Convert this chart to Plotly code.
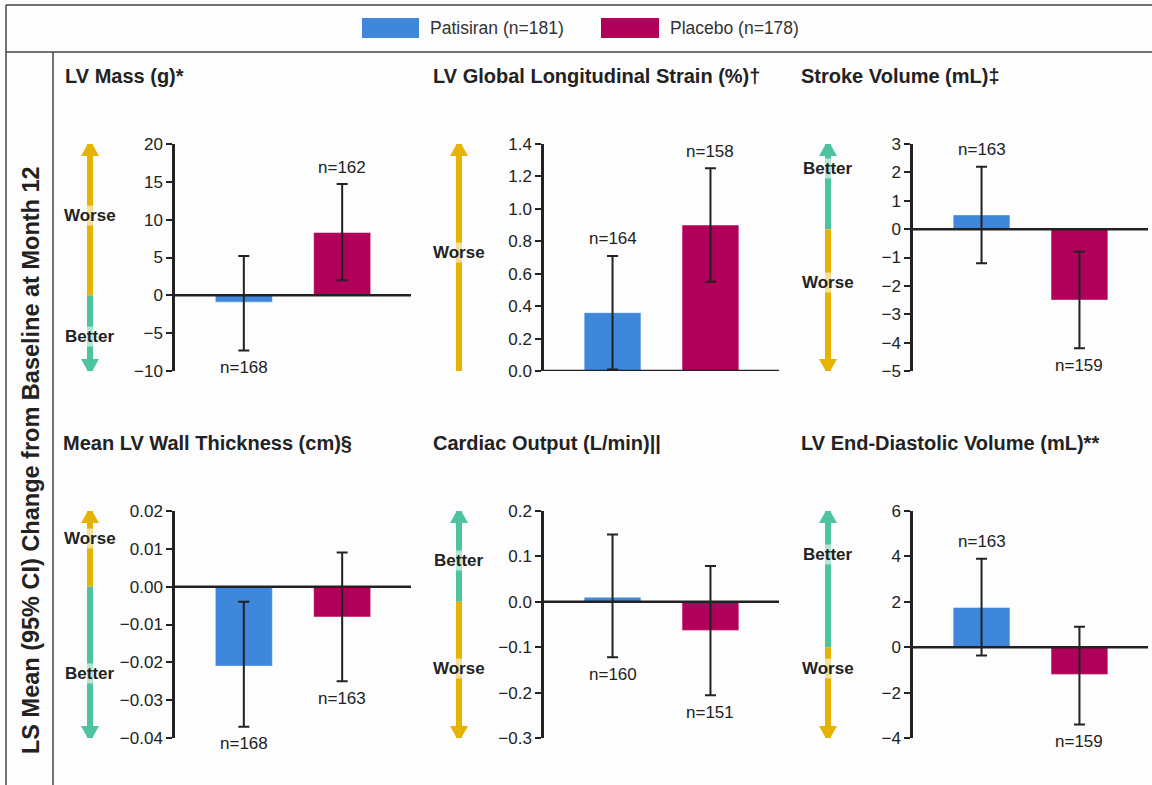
import plotly.graph_objects as go

# ---------------- data ----------------
panel_titles = ["LV Mass (g)*", "LV Global Longitudinal Strain (%)†", "Stroke Volume (mL)‡",
                "Mean LV Wall Thickness (cm)§", "Cardiac Output (L/min)||", "LV End-Diastolic Volume (mL)**"]
group_names = ["Patisiran (n=181)", "Placebo (n=178)"]

patisiran_mean = [-0.9, 0.36, 0.5, -0.021, 0.01, 1.75]
patisiran_low = [-7.3, 0.01, -1.2, -0.037, -0.122, -0.37]
patisiran_high = [5.2, 0.71, 2.2, -0.004, 0.148, 3.9]
patisiran_n = [168, 164, 163, 168, 160, 163]

placebo_mean = [8.3, 0.90, -2.5, -0.008, -0.063, -1.2]
placebo_low = [2.0, 0.55, -4.2, -0.025, -0.206, -3.4]
placebo_high = [14.7, 1.25, -0.8, 0.009, 0.079, 0.9]
placebo_n = [162, 158, 159, 163, 151, 159]

y_min = [-10, 0, -5, -0.04, -0.3, -4]
y_max = [20, 1.4, 3, 0.02, 0.2, 6]
y_step = [5, 0.2, 1, 0.01, 0.1, 2]
y_format = ["d", ".1f", "d", ".2f", ".1f", "d"]

upper_meaning = ["Worse", "Worse", "Better", "Worse", "Better", "Better"]
lower_meaning = ["Better", "", "Worse", "Better", "Worse", "Worse"]
y_axis_title = "LS Mean (95% CI) Change from Baseline at Month 12"

# ---------------- layout settings ----------------
W, H = 1152, 785
BLUE = "#3F87DB"
MAGENTA = "#B0005A"
YELLOW = "#E6B400"
GREEN = "#4DC3A0"
INK = "#222222"
FONT = "Arial, Liberation Sans, sans-serif"

col_px = [(175, 411), (544, 779), (913, 1148)]
row_px = [(144, 371), (511, 738)]
title_px = [(63, 76), (431, 76), (799, 76), (61, 443), (431, 443), (799, 443)]
upper_label_frac = [0.683, 0.52, 0.894, 0.881, 0.78, 0.81]
lower_label_frac = [0.15, 0.0, 0.388, 0.286, 0.308, 0.308]
patisiran_label_pos = ["below", "above", "above", "below", "below", "above"]
placebo_label_pos = ["above", "above", "below", "below", "below", "below"]


def px_x(p):
    return p / W


def px_y(p):
    return 1 - p / H


fig = go.Figure()
shapes = []
annotations = []
layout_axes = {}

for i in range(6):
    r, c = divmod(i, 3)
    k = i + 1
    xa = "x" if k == 1 else f"x{k}"
    ya = "y" if k == 1 else f"y{k}"
    xl = "xaxis" if k == 1 else f"xaxis{k}"
    yl = "yaxis" if k == 1 else f"yaxis{k}"

    for xpos, mean, lo, hi, color, name in [
        (0, patisiran_mean[i], patisiran_low[i], patisiran_high[i], BLUE, group_names[0]),
        (1, placebo_mean[i], placebo_low[i], placebo_high[i], MAGENTA, group_names[1]),
    ]:
        fig.add_trace(go.Bar(
            x=[xpos], y=[mean], width=0.58, name=name, showlegend=False,
            marker=dict(color=color, line=dict(color="rgba(255,255,255,0.45)", width=1)),
            error_y=dict(type="data", symmetric=False, array=[hi - mean], arrayminus=[mean - lo],
                         color=INK, thickness=2, width=5.5),
            xaxis=xa, yaxis=ya, hoverinfo="skip",
        ))

    layout_axes[xl] = dict(domain=[px_x(col_px[c][0]), px_x(col_px[c][1])], range=[-0.7, 1.7],
                           visible=False, anchor=ya, fixedrange=True)
    layout_axes[yl] = dict(domain=[px_y(row_px[r][1]), px_y(row_px[r][0])],
                           range=[y_min[i], y_max[i]], dtick=y_step[i], tick0=0,
                           tickformat=y_format[i], showline=True, linecolor=INK, linewidth=2.5,
                           ticks="outside", ticklen=6, tickwidth=2, tickcolor=INK,
                           tickfont=dict(size=17, color=INK, family=FONT),
                           showgrid=False, zeroline=False, anchor=xa, fixedrange=True,
                           automargin=False)

    # zero line
    shapes.append(dict(type="line", xref=f"{xa} domain", yref=ya, x0=0, x1=1, y0=0, y1=0,
                       line=dict(color=INK, width=2.5), layer="above"))

    # direction arrow
    ax = px_x(col_px[c][0] - 85)
    up_col = YELLOW if upper_meaning[i] == "Worse" else GREEN
    dn_col = GREEN if upper_meaning[i] == "Worse" else YELLOW
    shapes.append(dict(type="line", xref="paper", yref=ya, x0=ax, x1=ax, y0=0, y1=y_max[i],
                       line=dict(color=up_col, width=6), layer="below"))
    shapes.append(dict(type="path", xref="paper", yref=ya, xsizemode="pixel", ysizemode="pixel",
                       xanchor=ax, yanchor=y_max[i], path="M -9,-12 L 9,-12 L 0,4 Z",
                       fillcolor=up_col, line=dict(width=0), layer="below"))
    annotations.append(dict(xref="paper", yref=f"{ya} domain", x=ax, y=upper_label_frac[i],
                            xanchor="center", yanchor="middle",
                            text=f"<b>{upper_meaning[i]}</b>", showarrow=False,
                            font=dict(size=17, color=INK, family=FONT),
                            bgcolor="rgba(253,253,253,0.6)", borderpad=0))
    if y_min[i] < 0:
        shapes.append(dict(type="line", xref="paper", yref=ya, x0=ax, x1=ax, y0=y_min[i], y1=0,
                           line=dict(color=dn_col, width=6), layer="below"))
        shapes.append(dict(type="path", xref="paper", yref=ya, xsizemode="pixel", ysizemode="pixel",
                           xanchor=ax, yanchor=y_min[i], path="M -9,12 L 9,12 L 0,-4 Z",
                           fillcolor=dn_col, line=dict(width=0), layer="below"))
        annotations.append(dict(xref="paper", yref=f"{ya} domain", x=ax, y=lower_label_frac[i],
                                xanchor="center", yanchor="middle",
                                text=f"<b>{lower_meaning[i]}</b>", showarrow=False,
                                font=dict(size=17, color=INK, family=FONT),
                                bgcolor="rgba(253,253,253,0.6)", borderpad=0))

    # n labels
    for xpos, lo, hi, n, pos in [(0, patisiran_low[i], patisiran_high[i], patisiran_n[i], patisiran_label_pos[i]),
                                 (1, placebo_low[i], placebo_high[i], placebo_n[i], placebo_label_pos[i])]:
        annotations.append(dict(xref=xa, yref=ya, x=xpos, y=hi if pos == "above" else lo,
                                xanchor="center", yanchor="middle",
                                yshift=17 if pos == "above" else -17, text=f"n={n}",
                                showarrow=False, font=dict(size=17, color=INK, family=FONT)))

    # panel title
    tx, ty = title_px[i]
    annotations.append(dict(xref="paper", yref="paper", x=px_x(tx), y=px_y(ty), xanchor="left",
                            yanchor="middle", text=f"<b>{panel_titles[i]}</b>", showarrow=False,
                            font=dict(size=20, color=INK, family=FONT)))

# frame lines
frame = dict(color="#444444", width=1.5)
shapes += [
    dict(type="line", xref="paper", yref="paper", x0=px_x(6), x1=1, y0=px_y(5), y1=px_y(5), line=frame),
    dict(type="line", xref="paper", yref="paper", x0=px_x(6), x1=1, y0=px_y(52), y1=px_y(52), line=frame),
    dict(type="line", xref="paper", yref="paper", x0=px_x(6), x1=px_x(6), y0=px_y(5), y1=0, line=frame),
    dict(type="line", xref="paper", yref="paper", x0=px_x(53), x1=px_x(53), y0=px_y(52), y1=0, line=frame),
]

# legend (manual)
for (x0, x1, tx), color, name in zip([(362, 419, 428), (601, 659, 668)], [BLUE, MAGENTA], group_names):
    shapes.append(dict(type="rect", xref="paper", yref="paper", x0=px_x(x0), x1=px_x(x1),
                       y0=px_y(38), y1=px_y(18), fillcolor=color, line=dict(width=0)))
    annotations.append(dict(xref="paper", yref="paper", x=px_x(tx), y=px_y(28), xanchor="left",
                            yanchor="middle", text=name, showarrow=False,
                            font=dict(size=17.5, color="#333333", family=FONT)))

# y axis title
annotations.append(dict(xref="paper", yref="paper", x=px_x(31), y=px_y(460), textangle=-90,
                        xanchor="center", yanchor="middle",
                        text=f"<b>{y_axis_title}</b>", showarrow=False,
                        font=dict(size=23.5, color=INK, family=FONT)))

fig.update_layout(
    width=W, height=H, autosize=False,
    margin=dict(l=0, r=0, t=0, b=0, pad=0, autoexpand=False),
    paper_bgcolor="#fdfdfd", plot_bgcolor="#fdfdfd", barmode="overlay",
    font=dict(family=FONT, color=INK), shapes=shapes, annotations=annotations,
    showlegend=False, **layout_axes,
)

fig.write_html("out.html")
